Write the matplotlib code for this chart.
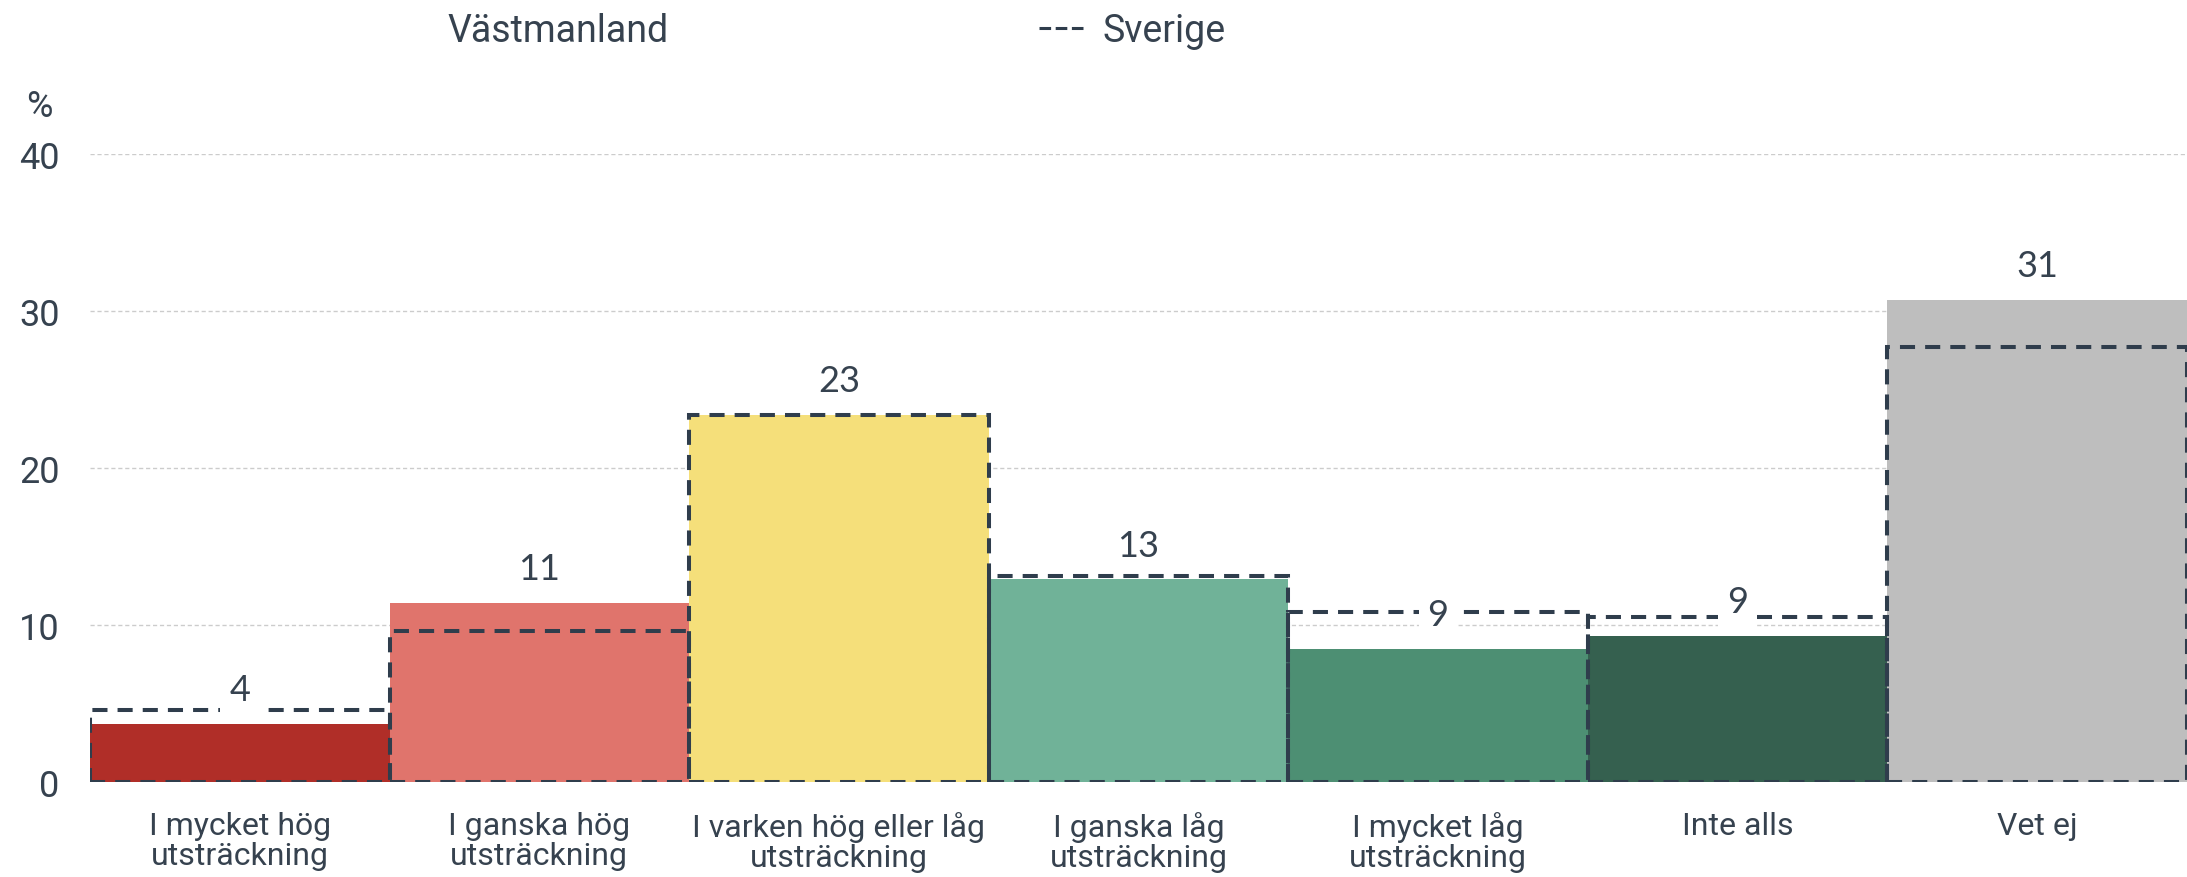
"""
Stapeldiagram: Västmanland mot Sverige (streckad kontur), andel i procent.
"""

import matplotlib.pyplot as plt
from matplotlib.lines import Line2D
from matplotlib.patches import Patch

plt.rcParams["font.family"] = ["Roboto", "DejaVu Sans"]

# Data
categories = [
    "I mycket hög\nutsträckning",
    "I ganska hög\nutsträckning",
    "I varken hög eller låg\nutsträckning",
    "I ganska låg\nutsträckning",
    "I mycket låg\nutsträckning",
    "Inte alls",
    "Vet ej",
]
vastmanland = [3.7, 11.4, 23.4, 12.9, 8.5, 9.3, 30.7]
sverige = [4.6, 9.6, 23.4, 13.1, 10.8, 10.5, 27.7]
value_labels = ["4", "11", "23", "13", "9", "9", "31"]
bar_colors = ["#b02e28", "#e0746c", "#f5df7a", "#70b298", "#4d8f73", "#35604f", "#bebebe"]

text_color = "#36424f"
line_color = "#2f3d4c"

fig = plt.figure(figsize=(21.87, 8.78), dpi=100)
ax = fig.add_axes([90 / 2187, 95 / 878, 1 - 90 / 2187, (783 - 155) / 878])

x = list(range(len(categories)))

# Västmanland bars
ax.bar(x, vastmanland, width=1.0, color=bar_colors, zorder=2)

# Sverige outlines
ax.bar(
    x, sverige, width=1.0, fill=False, edgecolor=line_color,
    linestyle=(0, (3.75, 2.5)), linewidth=2.9, zorder=3,
)

# Value labels above the Västmanland bars
for xi, v, lab in zip(x, vastmanland, value_labels):
    ax.annotate(
        lab, (xi, v), xytext=(0, 24.5), textcoords="offset points",
        ha="center", va="center", fontsize=26, color=text_color,
        family=["Lato", "DejaVu Sans"], zorder=5,
        bbox=dict(boxstyle="square,pad=0.25", fc="white", ec="none"),
    )

# Baseline and grid
ax.axhline(0, color="#d6dde3", linewidth=3, zorder=1)
ax.yaxis.grid(True, color="#cccccc", linestyle=(0, (3, 2)), linewidth=1)
ax.set_axisbelow(True)

ax.set_xlim(-0.5, 6.5)
ax.set_ylim(0, 40)
ax.set_yticks([0, 10, 20, 30, 40])
ax.set_xticks(x)
ax.set_xticklabels(categories, fontsize=23, color=text_color, linespacing=1.05)
ax.tick_params(axis="y", length=0, pad=22, labelsize=26, labelcolor=text_color)
ax.tick_params(axis="x", length=0, pad=21)
for s in ax.spines.values():
    s.set_visible(False)

fig.text(26 / 2187, 1 - 107 / 878, "%", fontsize=26, color=text_color, va="center")

# Legend
handles = [
    Patch(facecolor="none", edgecolor="none"),
    Line2D([0], [0], color=line_color, linestyle=(0, (3.8, 1.5)), linewidth=2.2),
]
fig.legend(
    handles, ["Västmanland", "Sverige"], ncol=2, frameon=False,
    loc="center left", bbox_to_anchor=(384 / 2187, 1 - 32 / 878),
    fontsize=27, labelcolor=text_color, handlelength=1.23,
    handletextpad=0.45, columnspacing=9.9, borderpad=0, borderaxespad=0,
)

fig.savefig("out.png", dpi=100)
